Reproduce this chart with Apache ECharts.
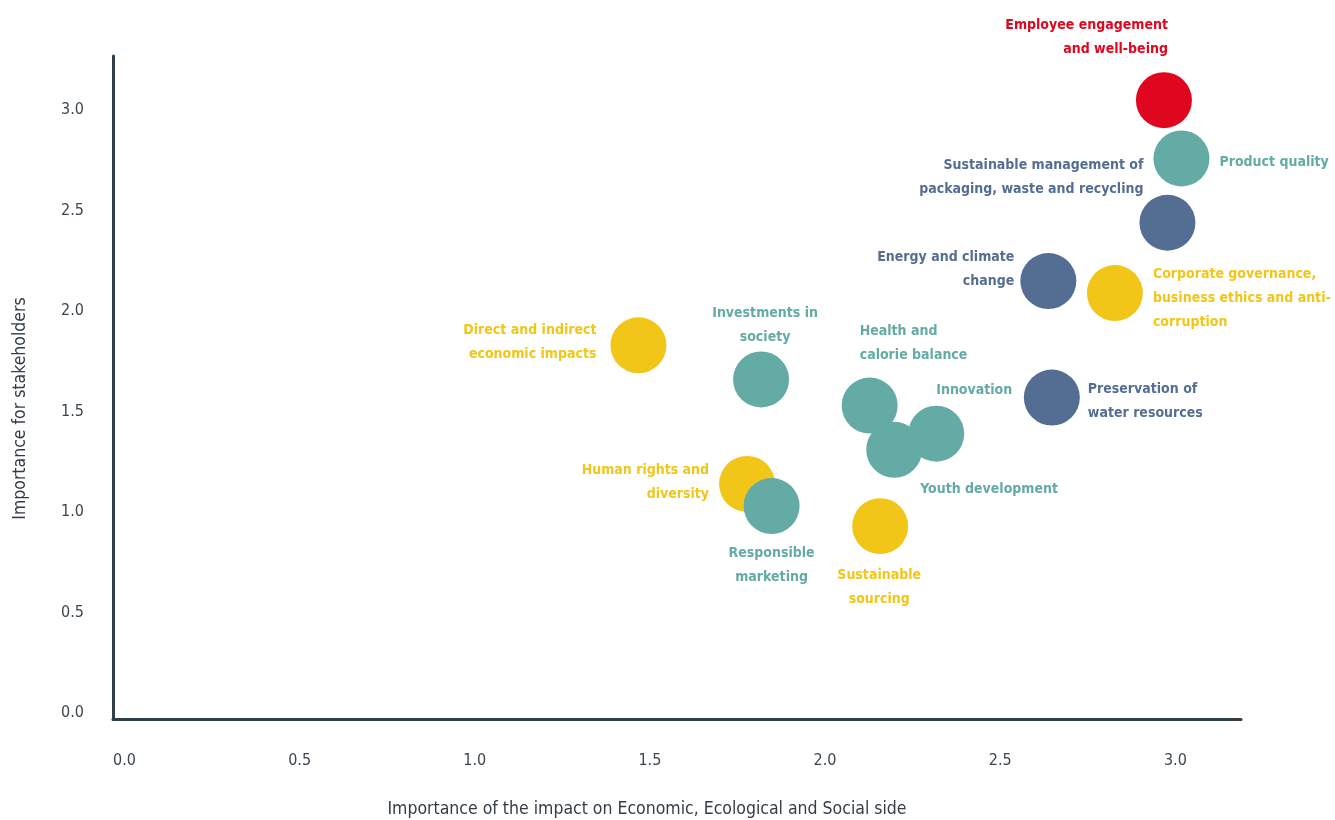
<!DOCTYPE html>
<html>
<head>
<meta charset="utf-8">
<script src="https://cdn.jsdelivr.net/npm/echarts@6/dist/echarts.min.js"></script>
<style>
html,body{margin:0;padding:0;background:#fff;}
#chart{width:1335px;height:820px;}
</style>
</head>
<body>
<div id="chart"></div>
<script>
// ---- data ----
const topics = [
  "Employee engagement\nand well-being",
  "Product quality",
  "Sustainable management of\npackaging, waste and recycling",
  "Energy and climate\nchange",
  "Corporate governance,\nbusiness ethics and anti-\ncorruption",
  "Direct and indirect\neconomic impacts",
  "Investments in\nsociety",
  "Health and\ncalorie balance",
  "Innovation",
  "Youth development",
  "Preservation of\nwater resources",
  "Human rights and\ndiversity",
  "Responsible\nmarketing",
  "Sustainable\nsourcing"
];
const impactValues = [3.00, 3.05, 3.01, 2.67, 2.86, 1.50, 1.85, 2.16, 2.35, 2.23, 2.68, 1.81, 1.88, 2.19];
const stakeholderValues = [3.08, 2.79, 2.47, 2.18, 2.12, 1.86, 1.69, 1.56, 1.42, 1.34, 1.60, 1.17, 1.06, 0.96];
const groups = ["people", "social", "environment", "environment", "governance", "governance", "social", "social", "social", "social", "environment", "governance", "social", "governance"];
const xTickLabels = ["0.0", "0.5", "1.0", "1.5", "2.0", "2.5", "3.0"];
const yTickLabels = ["0.0", "0.5", "1.0", "1.5", "2.0", "2.5", "3.0"];

// ---- styles (kept apart from data) ----
const groupColors = {
  people: "#E0061F",
  social: "#63ABA4",
  environment: "#546E93",
  governance: "#F2C618"
};
// label anchor offsets relative to bubble centre [dx, dy, align]
const labelPlacement = [
  [4, -63, "right"],
  [38, 4, "left"],
  [-24, -45, "right"],
  [-34, -12, "right"],
  [38, 5, "left"],
  [-42, -3, "right"],
  [4, -54, "center"],
  [-10, -62, "left"],
  [0, -43, "left"],
  [26, 40, "left"],
  [36, 4, "left"],
  [-38, -2, "right"],
  [0, 59, "center"],
  [-1, 61, "center"]
];
const R = 28;
const labelFont = "'DejaVu Sans Condensed', sans-serif";
const axisFont = "'DejaVu Sans Condensed', sans-serif";

const data = topics.map((name, i) => {
  const c = groupColors[groups[i]];
  const p = labelPlacement[i];
  return {
    name: name,
    value: [impactValues[i], stakeholderValues[i]],
    itemStyle: { color: c, opacity: 1 },
    label: {
      show: true,
      formatter: name,
      position: [R + p[0], R + p[1]],
      align: p[2],
      verticalAlign: "middle",
      color: c,
      fontFamily: labelFont,
      fontWeight: "bold",
      fontSize: 14,
      lineHeight: 24
    }
  };
});

const chart = echarts.init(document.getElementById("chart"), null, { renderer: "canvas" });
chart.setOption({
  backgroundColor: "#ffffff",
  animation: false,
  grid: { left: 113, right: 94, top: 56, bottom: 101, containLabel: false, outerBoundsMode: "none" },
  xAxis: {
    type: "value",
    min: 0,
    max: 3.22,
    interval: 0.5,
    name: "Importance of the impact on Economic, Ecological and Social side",
    nameLocation: "middle",
    nameGap: 81,
    nameTextStyle: { fontFamily: axisFont, fontSize: 17.5, color: "#333d47", padding: [0, 60, 0, 0] },
    axisLine: { show: true, lineStyle: { color: "#333f48", width: 3 } },
    axisTick: { show: false },
    splitLine: { show: false },
    axisLabel: {
      showMaxLabel: false,
      align: "left",
      margin: 34,
      fontFamily: axisFont,
      fontSize: 16,
      color: "#3d4650",
      formatter: (v) => {
        const idx = Math.round(v / 0.5);
        return Math.abs(v - idx * 0.5) < 1e-6 && xTickLabels[idx] ? xTickLabels[idx] : "";
      }
    }
  },
  yAxis: {
    type: "value",
    min: 0,
    max: 3.3,
    interval: 0.5,
    name: "Importance for stakeholders",
    nameLocation: "middle",
    nameGap: 84,
    nameTextStyle: { fontFamily: axisFont, fontSize: 17.5, color: "#333d47", padding: [0, 42, 0, 0] },
    axisLine: { show: true, lineStyle: { color: "#333f48", width: 3 } },
    axisTick: { show: false },
    splitLine: { show: false },
    axisLabel: {
      showMaxLabel: false,
      margin: 29,
      verticalAlign: "bottom",
      lineHeight: 12,
      fontFamily: axisFont,
      fontSize: 16,
      color: "#3d4650",
      formatter: (v) => {
        const idx = Math.round(v / 0.5);
        return Math.abs(v - idx * 0.5) < 1e-6 && yTickLabels[idx] ? yTickLabels[idx] : "";
      }
    }
  },
  series: [{
    type: "scatter",
    symbol: "circle",
    symbolSize: 2 * R,
    data: data,
    emphasis: { disabled: true },
    labelLayout: { hideOverlap: false }
  }]
});
</script>
</body>
</html>
